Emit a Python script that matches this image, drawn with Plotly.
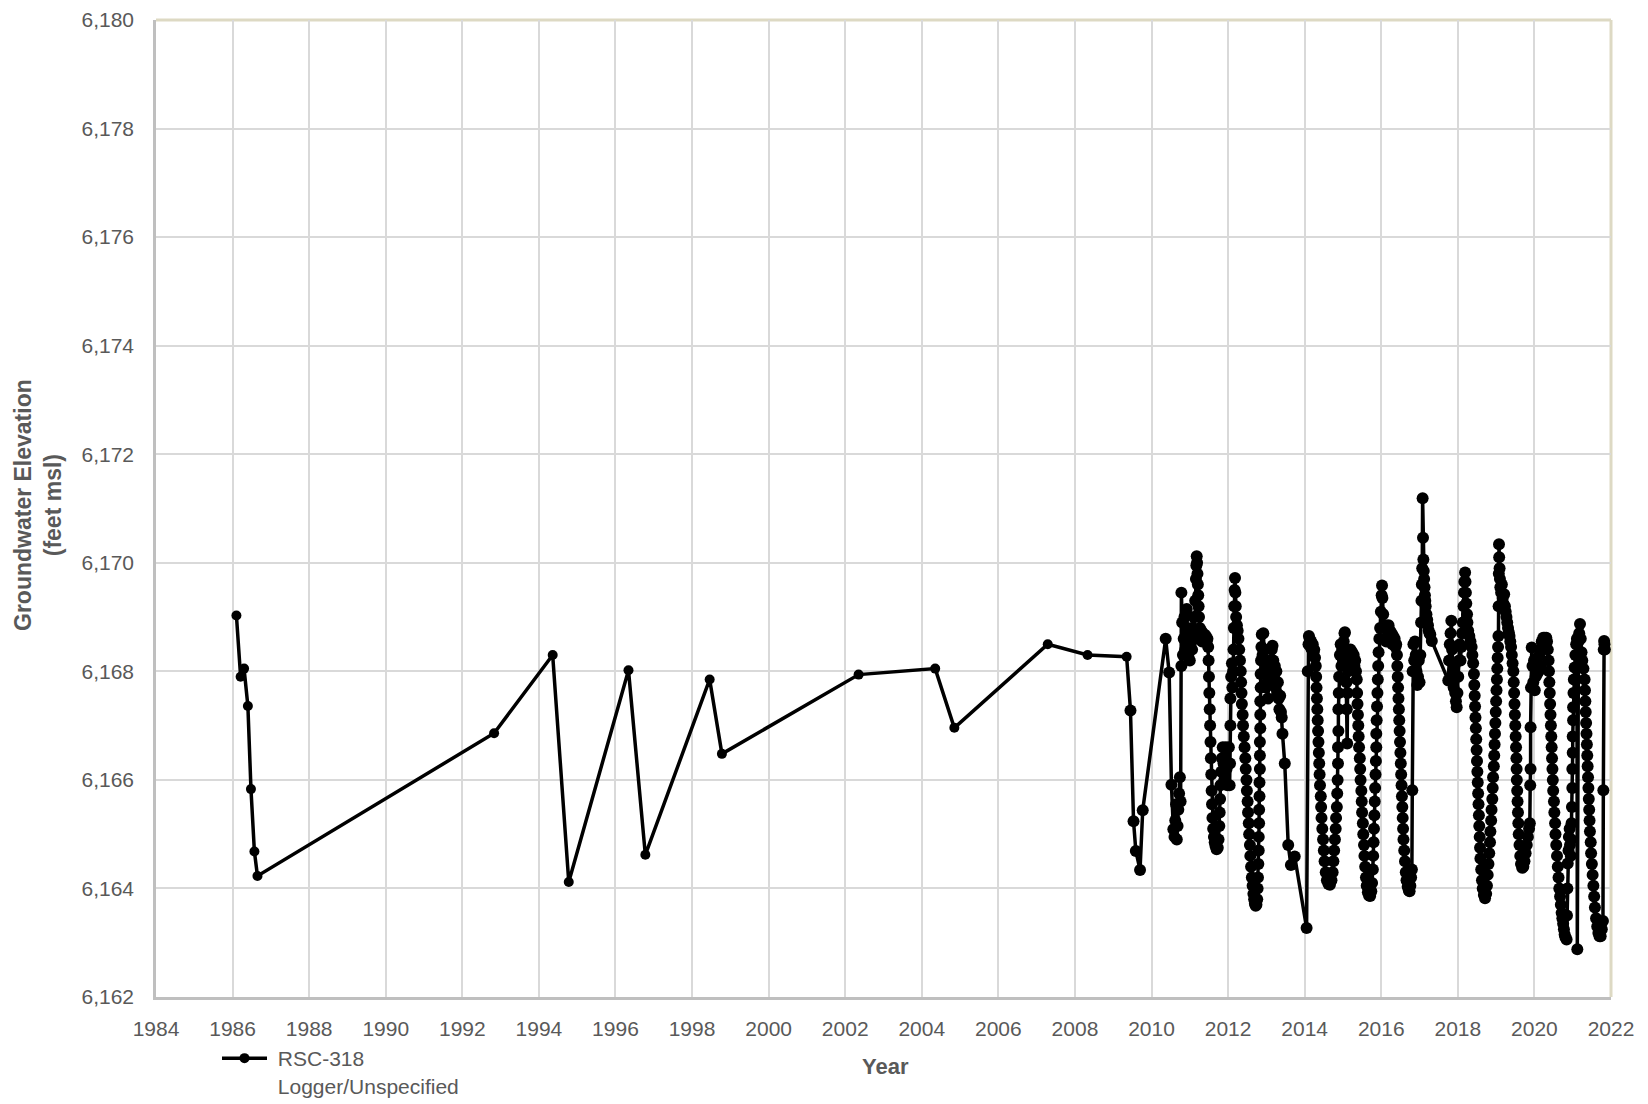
import plotly.graph_objects as go

# ---- values (decimal year, groundwater elevation, ft msl) ----
manual_years = [1986.10, 1986.21, 1986.30, 1986.40, 1986.48, 1986.57, 1986.65,
                1992.83, 1994.36, 1994.78, 1996.34, 1996.78, 1998.46, 1998.78,
                2002.35, 2004.35, 2004.85, 2007.29, 2008.33, 2009.35]
manual_elev = [6169.03, 6167.90, 6168.05, 6167.36, 6165.83, 6164.68, 6164.23,
               6166.86, 6168.30, 6164.12, 6168.02, 6164.62, 6167.85, 6166.48,
               6167.94, 6168.05, 6166.96, 6168.50, 6168.30, 6168.27]

y2010 = [2009.45, 2009.53, 2009.59, 2009.70, 2009.77, 2010.37, 2010.46, 2010.52, 2010.57, 2010.60,
         2010.62, 2010.64, 2010.66, 2010.68, 2010.70, 2010.72, 2010.74, 2010.76, 2010.78, 2010.78]
e2010 = [6167.28, 6165.24, 6164.69, 6164.34, 6165.44, 6168.60, 6167.98, 6165.91, 6165.09, 6164.95,
         6165.25, 6165.55, 6164.90, 6165.15, 6165.45, 6165.75, 6166.05, 6165.60, 6168.10, 6169.45]

y2011 = [2010.80, 2010.82, 2010.84, 2010.86, 2010.88, 2010.90, 2010.92, 2010.94, 2010.96, 2010.98,
         2011.00, 2011.02, 2011.04, 2011.06, 2011.08, 2011.10, 2011.12, 2011.14, 2011.16, 2011.17,
         2011.18, 2011.19, 2011.20, 2011.21, 2011.22, 2011.23, 2011.24, 2011.26, 2011.28, 2011.30,
         2011.32, 2011.34, 2011.36, 2011.38, 2011.40, 2011.42, 2011.44, 2011.46, 2011.48]
e2011 = [6168.90, 6168.30, 6168.60, 6169.00, 6168.40, 6168.80, 6169.15, 6168.70, 6168.30, 6168.60,
         6168.20, 6168.50, 6168.80, 6168.40, 6168.70, 6169.00, 6168.60, 6169.30, 6169.70, 6169.95,
         6170.12, 6170.00, 6169.80, 6169.60, 6169.40, 6169.20, 6169.00, 6168.80, 6168.60, 6168.75,
         6168.55, 6168.70, 6168.60, 6168.68, 6168.60, 6168.65, 6168.55, 6168.60, 6168.45]

y2012 = [2011.49, 2011.50, 2011.51, 2011.52, 2011.53, 2011.54, 2011.55, 2011.56, 2011.57, 2011.58,
         2011.59, 2011.61, 2011.63, 2011.65, 2011.67, 2011.70, 2011.73, 2011.75, 2011.77, 2011.78,
         2011.79, 2011.80, 2011.82, 2011.84, 2011.86, 2011.88, 2011.90, 2011.92, 2011.94, 2011.96,
         2011.98, 2012.00, 2012.02, 2012.04, 2012.05, 2012.06, 2012.06, 2012.08, 2012.10, 2012.11,
         2012.13, 2012.14, 2012.15, 2012.16, 2012.17, 2012.18, 2012.19, 2012.20, 2012.21, 2012.23,
         2012.25, 2012.27, 2012.29, 2012.31, 2012.33, 2012.34, 2012.35, 2012.36, 2012.38, 2012.39,
         2012.41, 2012.43, 2012.45, 2012.46, 2012.48, 2012.49, 2012.51, 2012.52, 2012.54, 2012.55,
         2012.57, 2012.58, 2012.60, 2012.62, 2012.64, 2012.66, 2012.68, 2012.70, 2012.72, 2012.74,
         2012.76, 2012.77, 2012.78, 2012.79, 2012.80, 2012.80, 2012.81, 2012.81, 2012.82, 2012.82,
         2012.83, 2012.83, 2012.83, 2012.84, 2012.84, 2012.84, 2012.85, 2012.85, 2012.86, 2012.87,
         2012.88]
e2012 = [6168.20, 6167.90, 6167.60, 6167.30, 6167.00, 6166.70, 6166.40, 6166.10, 6165.80, 6165.55,
         6165.30, 6165.10, 6164.95, 6164.85, 6164.78, 6164.72, 6164.75, 6164.90, 6165.15, 6165.40,
         6165.65, 6165.90, 6166.15, 6166.40, 6166.60, 6166.30, 6166.00, 6166.35, 6166.60, 6166.20,
         6165.90, 6166.30, 6166.60, 6165.90, 6166.30, 6167.00, 6167.50, 6167.90, 6168.15, 6167.70,
         6168.00, 6168.40, 6168.80, 6169.20, 6169.50, 6169.72, 6169.45, 6169.20, 6169.00, 6168.85,
         6168.75, 6168.60, 6168.40, 6168.20, 6168.00, 6167.80, 6167.60, 6167.40, 6167.20, 6167.00,
         6166.80, 6166.60, 6166.40, 6166.20, 6166.00, 6165.80, 6165.60, 6165.40, 6165.20, 6165.00,
         6164.80, 6164.60, 6164.40, 6164.20, 6164.05, 6163.90, 6163.80, 6163.72, 6163.68, 6163.70,
         6163.80, 6164.00, 6164.20, 6164.45, 6164.70, 6164.95, 6165.20, 6165.45, 6165.70, 6165.95,
         6166.20, 6166.45, 6166.70, 6166.95, 6167.20, 6167.45, 6167.70, 6167.95, 6168.20, 6168.45,
         6168.68]

y2013 = [2012.90, 2012.92, 2012.94, 2012.96, 2012.98, 2013.00, 2013.02, 2013.04, 2013.06, 2013.08,
         2013.10, 2013.12, 2013.14, 2013.16, 2013.18, 2013.20, 2013.22, 2013.24, 2013.26, 2013.28,
         2013.30, 2013.32, 2013.34, 2013.36, 2013.38, 2013.40, 2013.42, 2013.48, 2013.57, 2013.64,
         2013.74, 2014.05, 2014.08]
e2013 = [6168.30, 6168.70, 6168.40, 6168.00, 6167.70, 6168.10, 6167.80, 6167.50, 6167.90, 6168.20,
         6167.90, 6168.20, 6168.40, 6168.47, 6168.20, 6167.90, 6168.10, 6167.70, 6168.00, 6167.60,
         6167.80, 6167.50, 6167.30, 6167.55, 6167.25, 6167.15, 6166.85, 6166.30, 6164.80, 6164.43,
         6164.59, 6163.27, 6168.00]

y2014 = [2014.10, 2014.11, 2014.13, 2014.15, 2014.17, 2014.19, 2014.21, 2014.23, 2014.25, 2014.27,
         2014.29, 2014.30, 2014.31, 2014.32, 2014.33, 2014.34, 2014.35, 2014.36, 2014.37, 2014.38,
         2014.39, 2014.40, 2014.42, 2014.43, 2014.44, 2014.46, 2014.48, 2014.50, 2014.52, 2014.55,
         2014.58, 2014.62, 2014.66, 2014.70, 2014.73, 2014.75, 2014.77, 2014.79, 2014.81, 2014.82,
         2014.84, 2014.85, 2014.86, 2014.87, 2014.87, 2014.88, 2014.88, 2014.89, 2014.90]
e2014 = [6168.50, 6168.65, 6168.60, 6168.45, 6168.55, 6168.40, 6168.50, 6168.35, 6168.40, 6168.25,
         6168.10, 6167.90, 6167.70, 6167.50, 6167.30, 6167.10, 6166.90, 6166.70, 6166.50, 6166.30,
         6166.10, 6165.90, 6165.70, 6165.50, 6165.30, 6165.10, 6164.90, 6164.70, 6164.50, 6164.30,
         6164.15, 6164.08, 6164.07, 6164.15, 6164.30, 6164.50, 6164.70, 6164.90, 6165.10, 6165.30,
         6165.50, 6165.75, 6166.00, 6166.30, 6166.60, 6166.90, 6167.30, 6167.60, 6167.90]

y2015 = [2014.92, 2014.94, 2014.96, 2014.98, 2015.00, 2015.02, 2015.04, 2015.05, 2015.07, 2015.09,
         2015.10, 2015.11, 2015.12, 2015.14, 2015.16, 2015.18, 2015.20, 2015.22, 2015.24, 2015.26,
         2015.28, 2015.30, 2015.32, 2015.34, 2015.36, 2015.37, 2015.38, 2015.39, 2015.40, 2015.41,
         2015.42, 2015.44, 2015.45, 2015.46, 2015.48, 2015.49, 2015.50, 2015.52, 2015.53, 2015.55,
         2015.56, 2015.58, 2015.60, 2015.62, 2015.65, 2015.68, 2015.71, 2015.74, 2015.76, 2015.78,
         2015.79, 2015.80, 2015.81, 2015.82, 2015.83, 2015.84, 2015.85, 2015.86, 2015.87, 2015.87,
         2015.88, 2015.89, 2015.90, 2015.91, 2015.92, 2015.93, 2015.95, 2015.97, 2015.99, 2016.01,
         2016.02]
e2015 = [6168.30, 6168.50, 6168.10, 6168.40, 6168.20, 6168.55, 6168.70, 6168.72, 6168.40, 6167.80,
         6167.30, 6166.67, 6167.60, 6168.00, 6168.30, 6168.10, 6168.40, 6168.20, 6168.35, 6168.15,
         6168.30, 6168.10, 6168.20, 6168.00, 6167.85, 6167.60, 6167.40, 6167.20, 6167.00, 6166.80,
         6166.60, 6166.40, 6166.20, 6166.00, 6165.80, 6165.60, 6165.40, 6165.20, 6165.00, 6164.80,
         6164.60, 6164.40, 6164.20, 6164.05, 6163.93, 6163.87, 6163.86, 6163.95, 6164.10, 6164.35,
         6164.60, 6164.85, 6165.10, 6165.35, 6165.60, 6165.85, 6166.10, 6166.35, 6166.60, 6166.85,
         6167.10, 6167.35, 6167.60, 6167.85, 6168.10, 6168.35, 6168.60, 6168.80, 6169.10, 6169.40,
         6169.58]

y2016 = [2016.03, 2016.05, 2016.07, 2016.09, 2016.11, 2016.13, 2016.15, 2016.17, 2016.19, 2016.21,
         2016.23, 2016.25, 2016.27, 2016.29, 2016.31, 2016.33, 2016.35, 2016.37, 2016.39, 2016.41,
         2016.42, 2016.43, 2016.44, 2016.45, 2016.46, 2016.47, 2016.48, 2016.49, 2016.50, 2016.51,
         2016.52, 2016.53, 2016.54, 2016.55, 2016.56, 2016.57, 2016.58, 2016.60, 2016.62, 2016.64,
         2016.66, 2016.69, 2016.72, 2016.74, 2016.76, 2016.78, 2016.80, 2016.81, 2016.82]
e2016 = [6169.35, 6169.05, 6168.80, 6168.60, 6168.85, 6168.55, 6168.80, 6168.60, 6168.85, 6168.60,
         6168.75, 6168.55, 6168.70, 6168.50, 6168.65, 6168.50, 6168.60, 6168.45, 6168.50, 6168.30,
         6168.10, 6167.90, 6167.70, 6167.50, 6167.30, 6167.10, 6166.90, 6166.70, 6166.50, 6166.30,
         6166.10, 6165.90, 6165.70, 6165.50, 6165.30, 6165.10, 6164.90, 6164.70, 6164.50, 6164.30,
         6164.15, 6164.03, 6163.96, 6163.95, 6164.05, 6164.20, 6164.35, 6165.81, 6168.00]

y2017 = [2016.84, 2016.86, 2016.88, 2016.90, 2016.92, 2016.94, 2016.96, 2016.98, 2017.00, 2017.02,
         2017.04, 2017.05, 2017.06, 2017.07, 2017.08, 2017.09, 2017.10, 2017.11, 2017.12, 2017.13,
         2017.14, 2017.15, 2017.16, 2017.18, 2017.20, 2017.22, 2017.24, 2017.26, 2017.28, 2017.32]
e2017 = [6168.50, 6168.20, 6168.55, 6168.30, 6168.00, 6167.75, 6167.90, 6168.20, 6167.80, 6168.30,
         6168.90, 6169.30, 6169.60, 6169.90, 6171.19, 6170.46, 6170.06, 6169.85, 6169.70, 6169.55,
         6169.40, 6169.30, 6169.20, 6169.05, 6168.95, 6168.85, 6168.75, 6168.70, 6168.68, 6168.56]

y2018 = [2017.75, 2017.77, 2017.79, 2017.81, 2017.83, 2017.85, 2017.87, 2017.89, 2017.91, 2017.93,
         2017.95, 2017.97, 2017.99, 2018.01, 2018.03, 2018.05, 2018.07, 2018.09, 2018.11, 2018.13,
         2018.15, 2018.16, 2018.17, 2018.19, 2018.20, 2018.21, 2018.22, 2018.24, 2018.25, 2018.27,
         2018.30, 2018.33, 2018.36, 2018.38, 2018.40, 2018.42, 2018.43, 2018.44, 2018.45, 2018.46,
         2018.47, 2018.48, 2018.49, 2018.50, 2018.51, 2018.52, 2018.53, 2018.54, 2018.55, 2018.56,
         2018.57, 2018.58, 2018.59, 2018.61, 2018.63, 2018.65, 2018.68, 2018.71, 2018.74, 2018.76,
         2018.78, 2018.80, 2018.82, 2018.84, 2018.85, 2018.87, 2018.88, 2018.90, 2018.91, 2018.92,
         2018.94, 2018.95, 2018.96, 2018.97, 2018.98, 2018.99, 2019.00, 2019.01, 2019.02, 2019.03,
         2019.04, 2019.05, 2019.06, 2019.065, 2019.07, 2019.075]
e2018 = [6167.83, 6168.20, 6168.50, 6168.70, 6168.93, 6168.40, 6168.00, 6167.70, 6168.10, 6167.60,
         6167.45, 6167.34, 6167.60, 6167.90, 6168.20, 6168.50, 6168.20, 6168.45, 6168.70, 6168.90,
         6169.20, 6169.45, 6169.65, 6169.82, 6169.65, 6169.45, 6169.25, 6169.05, 6168.90, 6168.75,
         6168.65, 6168.55, 6168.45, 6168.30, 6168.15, 6167.95, 6167.75, 6167.55, 6167.35, 6167.15,
         6166.95, 6166.75, 6166.55, 6166.35, 6166.15, 6165.95, 6165.75, 6165.55, 6165.35, 6165.15,
         6164.95, 6164.75, 6164.55, 6164.35, 6164.15, 6164.00, 6163.88, 6163.82, 6163.90, 6164.05,
         6164.25, 6164.45, 6164.65, 6164.85, 6165.05, 6165.25, 6165.45, 6165.65, 6165.85, 6166.05,
         6166.25, 6166.45, 6166.65, 6166.85, 6167.05, 6167.25, 6167.45, 6167.65, 6167.85, 6168.05,
         6168.25, 6168.45, 6168.65, 6169.20, 6169.80, 6170.34]

y2019 = [2019.08, 2019.09, 2019.10, 2019.11, 2019.13, 2019.15, 2019.17, 2019.19, 2019.21, 2019.23,
         2019.25, 2019.27, 2019.29, 2019.31, 2019.33, 2019.35, 2019.37, 2019.39, 2019.41, 2019.43,
         2019.45, 2019.46, 2019.47, 2019.48, 2019.49, 2019.50, 2019.51, 2019.52, 2019.53, 2019.535,
         2019.54, 2019.55, 2019.56, 2019.57, 2019.58, 2019.59, 2019.61, 2019.63, 2019.65, 2019.68,
         2019.71, 2019.74, 2019.77, 2019.80, 2019.83, 2019.86, 2019.88, 2019.89, 2019.90, 2019.90,
         2019.91, 2019.93]
e2019 = [6170.10, 6169.90, 6169.70, 6169.55, 6169.45, 6169.60, 6169.35, 6169.25, 6169.42, 6169.20,
         6169.10, 6169.00, 6168.90, 6168.80, 6168.72, 6168.65, 6168.55, 6168.45, 6168.30, 6168.15,
         6168.00, 6167.80, 6167.60, 6167.40, 6167.20, 6167.00, 6166.80, 6166.60, 6166.40, 6166.20,
         6166.00, 6165.80, 6165.60, 6165.40, 6165.20, 6165.00, 6164.80, 6164.60, 6164.45, 6164.38,
         6164.40, 6164.50, 6164.65, 6164.80, 6164.95, 6165.10, 6165.20, 6165.90, 6166.20, 6166.97,
         6167.70, 6168.44]

y2020 = [2019.95, 2019.97, 2019.99, 2020.01, 2020.03, 2020.05, 2020.07, 2020.09, 2020.11, 2020.13,
         2020.15, 2020.17, 2020.19, 2020.21, 2020.23, 2020.25, 2020.27, 2020.29, 2020.31, 2020.33,
         2020.35, 2020.37, 2020.38, 2020.39, 2020.40, 2020.41, 2020.42, 2020.43, 2020.44, 2020.45,
         2020.46, 2020.47, 2020.48, 2020.49, 2020.51, 2020.52, 2020.54, 2020.55, 2020.57, 2020.59,
         2020.61, 2020.63, 2020.65, 2020.67, 2020.69, 2020.71, 2020.73, 2020.75, 2020.77, 2020.79,
         2020.81, 2020.84, 2020.85, 2020.86, 2020.87, 2020.89, 2020.90, 2020.92, 2020.93, 2020.95,
         2020.96, 2020.97, 2020.98, 2020.99, 2020.99, 2021.00, 2021.00, 2021.01, 2021.01, 2021.02,
         2021.03, 2021.05, 2021.07, 2021.09, 2021.11, 2021.12, 2021.13, 2021.15, 2021.17, 2021.19]
e2020 = [6168.10, 6167.80, 6168.20, 6167.65, 6167.90, 6168.20, 6167.95, 6168.25, 6168.00, 6168.30,
         6168.10, 6168.40, 6168.55, 6168.40, 6168.62, 6168.50, 6168.62, 6168.50, 6168.62, 6168.55,
         6168.40, 6168.20, 6168.00, 6167.80, 6167.60, 6167.40, 6167.20, 6167.00, 6166.80, 6166.60,
         6166.40, 6166.20, 6166.00, 6165.80, 6165.60, 6165.40, 6165.20, 6165.00, 6164.80, 6164.60,
         6164.40, 6164.20, 6164.00, 6163.85, 6163.70, 6163.55, 6163.45, 6163.35, 6163.25, 6163.15,
         6163.10, 6163.06, 6163.50, 6164.00, 6164.46, 6164.70, 6164.95, 6165.10, 6164.80, 6164.60,
         6164.90, 6165.20, 6165.50, 6165.85, 6166.20, 6166.50, 6166.80, 6167.10, 6167.34, 6167.60,
         6167.85, 6168.07, 6168.30, 6168.50, 6168.60, 6162.88, 6168.30, 6168.55, 6168.70, 6168.87]

y2021 = [2021.21, 2021.23, 2021.25, 2021.28, 2021.31, 2021.32, 2021.33, 2021.34, 2021.35, 2021.36,
         2021.37, 2021.38, 2021.39, 2021.40, 2021.41, 2021.42, 2021.43, 2021.44, 2021.45, 2021.47,
         2021.48, 2021.50, 2021.52, 2021.54, 2021.56, 2021.58, 2021.61, 2021.64, 2021.67, 2021.70,
         2021.73, 2021.76, 2021.79, 2021.80, 2021.81, 2021.82, 2021.83, 2021.84]
e2021 = [6168.60, 6168.35, 6168.20, 6168.05, 6167.85, 6167.65, 6167.45, 6167.25, 6167.05, 6166.85,
         6166.65, 6166.45, 6166.25, 6166.05, 6165.85, 6165.65, 6165.45, 6165.25, 6165.05, 6164.85,
         6164.65, 6164.45, 6164.25, 6164.05, 6163.85, 6163.65, 6163.45, 6163.30, 6163.18, 6163.12,
         6163.12, 6163.25, 6163.40, 6165.81, 6168.40, 6168.56, 6168.50, 6168.40]

series_name = "\u00a0RSC-318<br>\u00a0Logger/Unspecified"
x_title = "Year"
y_title_lines = ["Groundwater Elevation", "(feet msl)"]

logger_x, logger_y = [], []
for ys, es in [(y2010, e2010), (y2011, e2011), (y2012, e2012), (y2013, e2013), (y2014, e2014),
               (y2015, e2015), (y2016, e2016), (y2017, e2017), (y2018, e2018), (y2019, e2019),
               (y2020, e2020), (y2021, e2021)]:
    n = min(len(ys), len(es))
    logger_x += ys[:n]
    logger_y += es[:n]

x_vals = manual_years + logger_x
y_vals = manual_elev + logger_y

FONT = "Liberation Sans, Arial, sans-serif"
GREY = "#595959"

# the page body has an 8px margin, so the figure's origin sits at (8, 8) on the page
W, H = 1648, 1104
PL, PT, PW, PH = 148, 12, 1455, 977   # plot area in figure coordinates
BOTTOM = PT + PH + 8                  # page y of the x axis

fig = go.Figure()
fig.add_trace(go.Scatter(
    x=x_vals, y=y_vals, mode="lines+markers", name=series_name,
    line=dict(color="black", width=3.5),
    marker=dict(color="black", size=10, symbol="circle"),
    showlegend=True,
))
# densely sampled logger readings: their markers merge into a thick band
fig.add_trace(go.Scatter(
    x=logger_x, y=logger_y, mode="markers", showlegend=False, hoverinfo="skip",
    marker=dict(color="black", size=12, symbol="circle"),
))

fig.update_layout(
    width=W, height=H,
    margin=dict(l=PL, r=W - PL - PW, t=PT, b=H - PT - PH, autoexpand=False),
    paper_bgcolor="white", plot_bgcolor="white",
    font=dict(family=FONT, color=GREY, size=21),
    showlegend=True,
    legend=dict(x=(217 - 156) / PW, y=(BOTTOM - 1038) / PH, xanchor="left", yanchor="top",
                valign="top", bgcolor="rgba(0,0,0,0)",
                font=dict(family=FONT, size=21, color=GREY),
                itemwidth=45, tracegroupgap=0),
    xaxis=dict(range=[1984, 2022], dtick=2, tick0=1984,
               showgrid=True, gridcolor="#D9D9D9", gridwidth=1.5,
               showline=True, linecolor="#BFBFBF", linewidth=2.5,
               zeroline=False, ticks="", ticklabelstandoff=11,
               ticklabeloverflow="allow",
               tickfont=dict(family=FONT, size=21, color=GREY)),
    yaxis=dict(range=[6162, 6180], dtick=2, tick0=6162, tickformat=",d",
               showgrid=True, gridcolor="#D9D9D9", gridwidth=1.5,
               showline=True, linecolor="#BFBFBF", linewidth=2.5,
               zeroline=False, ticks="", ticklabelstandoff=15,
               ticklabeloverflow="allow",
               tickfont=dict(family=FONT, size=21, color=GREY)),
    shapes=[
        dict(type="line", xref="paper", yref="paper", x0=0, x1=1, y0=1, y1=1,
             line=dict(color="#DDD9C3", width=3), layer="between"),
        dict(type="line", xref="paper", yref="paper", x0=1, x1=1, y0=0, y1=1,
             line=dict(color="#DDD9C3", width=3), layer="between"),
    ],
    annotations=[
        dict(text="<b>" + x_title + "</b>", xref="paper", yref="paper",
             x=(885 - 156) / PW, y=(BOTTOM - 1066) / PH, xanchor="center", yanchor="middle",
             showarrow=False, font=dict(family=FONT, size=22, color=GREY)),
        dict(text="<br>".join("<b>" + s + "</b>" for s in y_title_lines),
             xref="paper", yref="paper",
             x=(38 - 156) / PW, y=(BOTTOM - 505) / PH, xanchor="center", yanchor="middle",
             textangle=-90, showarrow=False,
             font=dict(family=FONT, size=23, color=GREY)),
    ],
)

fig.write_html("out.html")
